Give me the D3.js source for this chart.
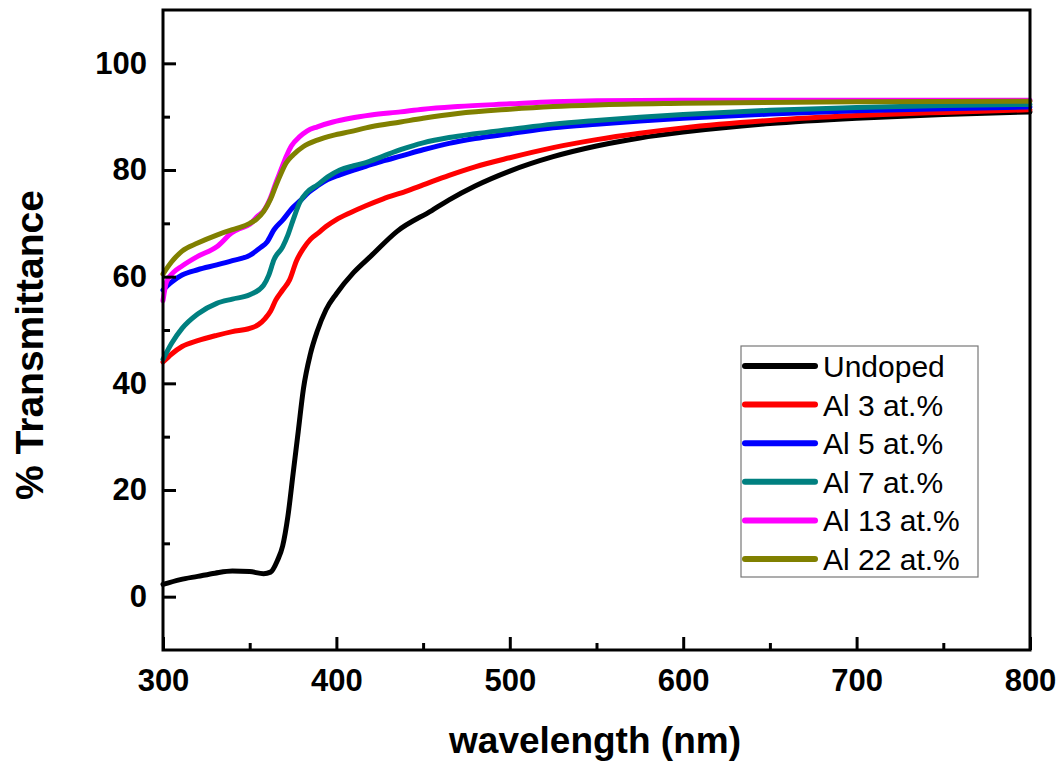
<!DOCTYPE html>
<html>
<head>
<meta charset="utf-8">
<script src="https://cdn.jsdelivr.net/npm/d3@7"></script>
<style>
  html, body { margin: 0; padding: 0; background: #fff; }
  svg { display: block; }
  text { font-family: "Liberation Sans", Arial, Helvetica, sans-serif; }
</style>
</head>
<body>
<svg id="chart" width="1061" height="763"></svg>
<script>
// Transmittance spectra, [wavelength nm, % T]
const undoped = [[300,2.3],[310,3.2],[320,3.8],[330,4.4],[340,4.8],[350,4.7],[358,4.3],[362,4.6],[366,6.8],[369,9.5],[372,15],[375,23],[378,31],[381,39],[385,45.5],[389,49.8],[394,53.8],[400,56.8],[410,60.8],[420,63.9],[435,68.5],[455,72.4],[465,74.4],[480,77],[500,79.8],[525,82.5],[550,84.5],[575,86],[600,87.1],[650,88.7],[700,89.7],[750,90.4],[800,90.9]];
const al3 = [[300,44],[305,45.5],[311,46.9],[320,48],[331,49],[340,49.7],[350,50.3],[355,51],[359,52.2],[362,53.5],[365,55.6],[369,57.5],[373,59.4],[377,63],[381,65.3],[385,67],[390,68.3],[394,69.4],[400,70.7],[408,72],[417,73.3],[427,74.6],[440,76],[450,77.2],[465,79],[480,80.6],[500,82.3],[525,84.2],[550,85.7],[575,86.9],[600,87.9],[650,89.3],[700,90.2],[750,90.8],[800,91.3]];
const al5 = [[300,57.5],[305,59],[311,60.3],[320,61.3],[331,62.2],[340,63],[350,64],[356,65.4],[360,66.5],[364,68.8],[369,70.6],[375,73],[379,74.2],[384,75.8],[389,77],[395,78.2],[402,79.1],[410,80],[417,80.7],[427,81.7],[437,82.6],[450,83.8],[465,85],[480,85.9],[500,86.8],[525,87.9],[550,88.6],[575,89.2],[600,89.7],[650,90.5],[700,91.1],[750,91.5],[800,91.8]];
const al7 = [[300,44.5],[305,47.5],[311,50.3],[320,53],[331,55],[340,55.8],[350,56.6],[358,58.4],[361,60.3],[364,63.2],[369,65.6],[372,67.8],[375,70.6],[379,74],[383,75.8],[389,77.2],[395,78.7],[402,80],[410,80.8],[417,81.4],[427,82.6],[437,83.8],[450,85.1],[465,86.1],[480,86.8],[500,87.6],[525,88.6],[550,89.3],[575,89.9],[600,90.4],[650,91.2],[700,91.7],[750,92.1],[800,92.3]];
const al13 = [[300,55.5],[302,59],[306,60.8],[311,62],[320,63.8],[331,65.6],[340,68.3],[344,69],[350,69.8],[354,71.2],[358,72.3],[362,74.8],[365,77.5],[368,80],[371,82.5],[374,84.5],[379,86.3],[383,87.3],[389,88.1],[398,89],[408,89.7],[420,90.3],[437,90.9],[450,91.4],[470,91.9],[500,92.4],[525,92.8],[550,93],[600,93.1],[700,93.1],[800,93.1]];
const al22 = [[300,60.5],[305,62.8],[311,64.8],[320,66.3],[331,67.8],[340,68.8],[344,69.2],[350,70],[354,70.8],[358,72.2],[362,74.5],[365,77],[368,79.3],[371,81.3],[375,82.8],[381,84.4],[389,85.6],[398,86.5],[408,87.2],[420,88.1],[437,89],[450,89.7],[470,90.6],[500,91.4],[525,91.9],[550,92.2],[600,92.5],[700,92.8],[800,92.9]];

const seriesNames = ["Undoped", "Al 3 at.%", "Al 5 at.%", "Al 7 at.%", "Al 13 at.%", "Al 22 at.%"];
const seriesColors = ["#000000", "#ff0000", "#0000ff", "#008080", "#ff00ff", "#808000"];
const seriesData = [undoped, al3, al5, al7, al13, al22];

const xMajorTicks = [300, 400, 500, 600, 700, 800];
const xMinorTicks = [350, 450, 550, 650, 750];
const yMajorTicks = [0, 20, 40, 60, 80, 100];
const yMinorTicks = [10, 30, 50, 70, 90];

const svg = d3.select("#chart");
const plotLeft = 163, plotRight = 1030, plotTop = 10, plotBottom = 650;

const x = d3.scaleLinear().domain([300, 800]).range([plotLeft, plotRight]);
const y = d3.scaleLinear().domain([-10, 110]).range([plotBottom, plotTop]);

// curves
const line = d3.line()
  .x(d => x(d[0]))
  .y(d => y(d[1]))
  .curve(d3.curveMonotoneX);

svg.append("g").selectAll("path")
  .data(seriesData)
  .join("path")
  .attr("d", d => line(d))
  .attr("fill", "none")
  .attr("stroke", (d, i) => seriesColors[i])
  .attr("stroke-width", 5)
  .attr("stroke-linejoin", "round")
  .attr("stroke-linecap", "round");

// frame
svg.append("rect")
  .attr("x", plotLeft).attr("y", plotTop)
  .attr("width", plotRight - plotLeft).attr("height", plotBottom - plotTop)
  .attr("fill", "none").attr("stroke", "#000").attr("stroke-width", 3);

// axes with inward ticks
function styleAxis(g) {
  g.select(".domain").remove();
  g.selectAll(".tick line").attr("stroke", "#000").attr("stroke-width", 3);
  g.selectAll(".tick text")
    .attr("fill", "#000")
    .style("font-size", "31px")
    .style("font-weight", "bold");
}

svg.append("g").attr("transform", `translate(0,${plotBottom})`)
  .call(d3.axisBottom(x).tickValues(xMinorTicks).tickSize(-7).tickFormat(""))
  .call(styleAxis);
svg.append("g").attr("transform", `translate(0,${plotBottom})`)
  .call(d3.axisBottom(x).tickValues(xMajorTicks).tickSize(-13).tickPadding(19).tickFormat(d3.format("d")))
  .call(styleAxis);

svg.append("g").attr("transform", `translate(${plotLeft},0)`)
  .call(d3.axisLeft(y).tickValues(yMinorTicks).tickSize(-7).tickFormat(""))
  .call(styleAxis);
svg.append("g").attr("transform", `translate(${plotLeft},0)`)
  .call(d3.axisLeft(y).tickValues(yMajorTicks).tickSize(-13).tickPadding(16).tickFormat(d3.format("d")))
  .call(styleAxis);

// axis titles
svg.append("text")
  .attr("x", 595).attr("y", 753)
  .attr("text-anchor", "middle")
  .style("font-size", "37px").style("font-weight", "bold")
  .text("wavelength (nm)");

svg.append("text")
  .attr("transform", "translate(43,345) rotate(-90)")
  .attr("text-anchor", "middle")
  .style("font-size", "39px").style("font-weight", "bold")
  .text("% Transmittance");

// legend
const legend = svg.append("g");
legend.append("rect")
  .attr("x", 741).attr("y", 346).attr("width", 237).attr("height", 231)
  .attr("fill", "#fff").attr("stroke", "#777").attr("stroke-width", 1.2);

const rowY = d3.scalePoint().domain(d3.range(seriesNames.length)).range([366, 559]);
const rows = legend.selectAll("g.row")
  .data(seriesNames)
  .join("g").attr("class", "row")
  .attr("transform", (d, i) => `translate(0,${rowY(i)})`);
rows.append("line")
  .attr("x1", 745).attr("x2", 815)
  .attr("stroke", (d, i) => seriesColors[i])
  .attr("stroke-width", 6)
  .attr("stroke-linecap", "round");
rows.append("text")
  .attr("x", 823).attr("y", 11)
  .style("font-size", "30px")
  .attr("fill", "#000")
  .text(d => d);
</script>
</body>
</html>
